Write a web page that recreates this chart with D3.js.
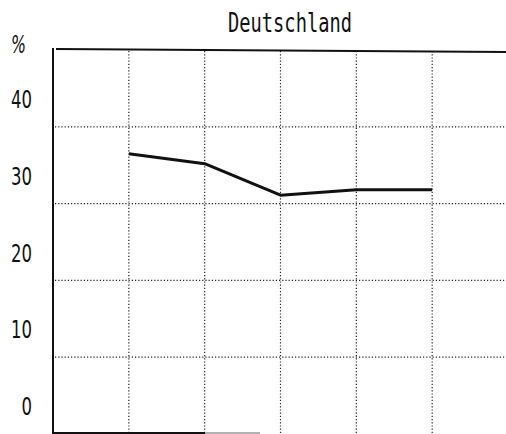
<!DOCTYPE html>
<html lang="de">
<head>
  <meta charset="UTF-8">
  <title>Deutschland</title>
  <script src="https://d3js.org/d3.v7.min.js"></script>
  <style>
    body { margin: 0; background: #fff; }
    text { fill: #111; }
    .grid { stroke: #222; stroke-width: 1.2; stroke-dasharray: 1.2,2; }
    .frame { stroke: #111; stroke-width: 2; }
  </style>
</head>
<body>
  <svg width="506" height="434"></svg>

  <script>
    const points = [1, 2, 3, 4, 5];
    const values = [36.5, 35.2, 31.1, 31.8, 31.8];
    const yTicks = [0, 10, 20, 30, 40];
    const xGrid = [1, 2, 3, 4, 5];
    const title = "Deutschland";

    const svg = d3.select("svg");

    const x = d3.scaleLinear().domain([0, 6]).range([53, 508]);
    const y = d3.scaleLinear().domain([0, 50]).range([434, 50]);

    // Gitter
    svg.selectAll(".hgrid")
      .data([10, 20, 30, 40])
      .join("line")
      .attr("class", "grid")
      .attr("x1", 55).attr("x2", 506)
      .attr("y1", d => y(d)).attr("y2", d => y(d));

    svg.selectAll(".vgrid")
      .data(xGrid)
      .join("line")
      .attr("class", "grid")
      .attr("x1", d => x(d)).attr("x2", d => x(d))
      .attr("y1", 51).attr("y2", 434);

    // Rahmen
    svg.append("line").attr("class", "frame")
      .attr("x1", 53).attr("x2", 53).attr("y1", 48).attr("y2", 434);
    svg.append("line").attr("class", "frame")
      .attr("x1", 56).attr("x2", 506).attr("y1", 49).attr("y2", 52);
    svg.append("line").attr("class", "frame")
      .attr("x1", 54).attr("x2", 205).attr("y1", 433).attr("y2", 433);
    svg.append("line").attr("class", "frame")
      .attr("x1", 205).attr("x2", 260).attr("y1", 433).attr("y2", 433)
      .style("stroke", "#999").style("stroke-width", 1.5);

    // y-Achse Beschriftung (etwas oberhalb der Linien)
    const yAxis = svg.append("g")
      .attr("transform", "translate(32,-27)")
      .call(d3.axisLeft(y).tickValues(yTicks).tickSize(0).tickPadding(0));
    yAxis.select(".domain").remove();
    yAxis.selectAll("text")
      .style("font-family", "'DejaVu Sans', sans-serif")
      .style("font-size", "24px")
      .attr("fill", "#111")
      .attr("textLength", d => String(d).length * 10.5)
      .attr("lengthAdjust", "spacingAndGlyphs");

    svg.append("text")
      .attr("x", 11).attr("y", 53)
      .style("font-family", "'DejaVu Sans', sans-serif")
      .style("font-size", "24px")
      .style("font-style", "italic")
      .attr("textLength", 15)
      .attr("lengthAdjust", "spacingAndGlyphs")
      .text("%");

    svg.append("text")
      .attr("x", 228).attr("y", 32)
      .style("font-family", "'DejaVu Sans Mono', monospace")
      .style("font-size", "26px")
      .attr("textLength", 124)
      .attr("lengthAdjust", "spacingAndGlyphs")
      .text(title);

    // Linie
    const line = d3.line()
      .x((d, i) => x(points[i]))
      .y(d => y(d));

    svg.append("path")
      .datum(values)
      .attr("d", line)
      .attr("fill", "none")
      .attr("stroke", "#111")
      .attr("stroke-width", 3)
      .attr("stroke-linejoin", "round");
  </script>
</body>
</html>
